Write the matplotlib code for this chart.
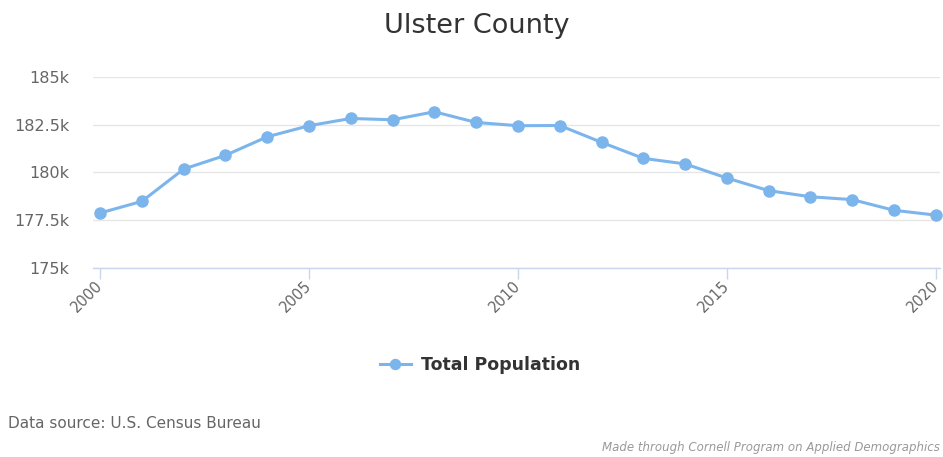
import matplotlib
matplotlib.use("Agg")
import matplotlib.pyplot as plt
from matplotlib.ticker import FuncFormatter

years = list(range(2000, 2021))
population = [177.88, 178.49, 180.18, 180.90, 181.87, 182.45, 182.83, 182.76, 183.18,
              182.62, 182.45, 182.46, 181.58, 180.74, 180.45, 179.71, 179.05, 178.73,
              178.58, 178.02, 177.77]
population = [v * 1000 for v in population]
x_ticks = [2000, 2005, 2010, 2015, 2020]
y_ticks = [175000, 177500, 180000, 182500, 185000]
title = "Ulster County"
series_name = "Total Population"

W, H = 943, 457
fig = plt.figure(figsize=(W / 100, H / 100), dpi=100)
ax = fig.add_axes([93 / W, 1 - 268 / H, (940 - 93) / W, (268 - 77) / H])

color = "#7cb5ec"
ax.plot(years, population, color=color, lw=2.2, marker="o", markersize=8,
        markeredgecolor=color, label=series_name, clip_on=False, zorder=3)

ax.set_xlim(1999.83, 2020.1)
ax.set_ylim(175000, 185000)
ax.set_yticks(y_ticks)
ax.set_xticks(x_ticks)


def kfmt(v, pos):
    return f"{v / 1000:g}k"


ax.yaxis.set_major_formatter(FuncFormatter(kfmt))
ax.grid(axis="y", color="#e6e6e6", lw=1)
ax.set_axisbelow(True)
for s in ["top", "right", "left"]:
    ax.spines[s].set_visible(False)
ax.spines["bottom"].set_color("#ccd6eb")
ax.spines["bottom"].set_linewidth(1)
ax.tick_params(axis="y", length=0, pad=17, labelsize=11.5, labelcolor="#666666")
ax.tick_params(axis="x", length=8, width=1, color="#ccd6eb", labelsize=10.5,
               labelcolor="#666666", pad=3)
for lbl in ax.get_yticklabels():
    lbl.set_ha("right")
for lbl in ax.get_xticklabels():
    lbl.set_rotation(45)
    lbl.set_ha("right")
    lbl.set_va("center")
    lbl.set_rotation_mode("anchor")

fig.text(477 / W, 1 - 33 / H, title, ha="center", va="baseline", fontsize=19.5,
         color="#333333")

leg = fig.legend(loc="center", bbox_to_anchor=(480 / W, 1 - 365 / H), frameon=False,
                 prop={"weight": "bold", "size": 12.5}, handlelength=1.8,
                 handletextpad=0.6, markerscale=0.9)
for t in leg.get_texts():
    t.set_color("#333333")

fig.text(8 / W, 1 - 424 / H, "Data source: U.S. Census Bureau", ha="left",
         va="center", fontsize=11, color="#666666")
fig.text(940 / W, 1 - 447 / H, "Made through Cornell Program on Applied Demographics",
         ha="right", va="center", fontsize=8.5, color="#999999", style="italic")

fig.savefig("out.png", dpi=100)
